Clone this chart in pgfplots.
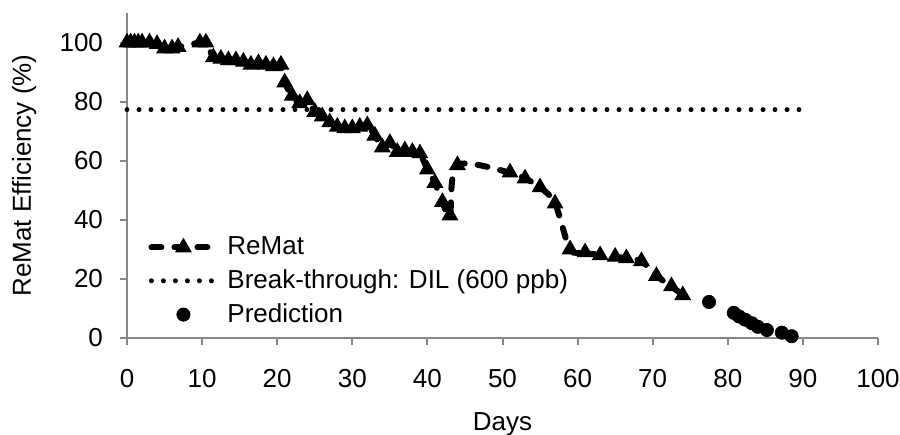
\documentclass[border=0pt]{standalone}
\usepackage{fontspec}
\setmainfont{Liberation Sans}
\usepackage{pgfplots}
\pgfplotsset{compat=1.18}
\definecolor{axisgray}{RGB}{134,134,134}
\newcommand\cf{\fontsize{13bp}{15.6bp}\selectfont}

\begin{document}
\begin{tikzpicture}
\begin{axis}[
  scale only axis, width=375.5bp, height=162.5bp,
  xmin=0, xmax=100, ymin=0, ymax=110,
  xtick={0,10,...,100}, ytick={0,20,...,100},
  axis lines=left,
  axis line style={axisgray, line width=1bp, -},
  tick style={axisgray, line width=1bp},
  tick align=outside, major tick length=3.5bp,
  /pgf/number format/assume math mode=true,
  tick label style={font=\cf, black},
  xticklabel style={yshift=-8.5bp},
  yticklabel style={xshift=-5bp},
  label style={font=\cf},
  xlabel={Days},
  ylabel={ReMat Efficiency (\%)},
  xlabel style={at={(axis description cs:0.5,-0.264)}, anchor=center},
  ylabel style={at={(axis description cs:-0.137,0.5)}, anchor=center},
  legend cell align=left,
  legend style={draw=none, fill=none, font=\cf, at={(0.028,0.025)},
    anchor=south west, inner sep=0pt, row sep=2bp, column sep=2.5bp},
  legend image code/.code={%
    \draw[mark repeat=2,mark phase=2,#1]
      plot coordinates {(0bp,0bp) (16bp,0bp) (32bp,0bp)};},
  clip=false,
]
% measured efficiency (smoothed line)
\addplot[black, line width=3bp, dash pattern=on 5bp off 6.5bp, line cap=round,
  smooth, tension=0.5,
  mark=triangle*, mark size=4.4bp, mark options={solid, line width=0.5bp}]
  coordinates {
  (0,100) (0.5,100) (1,100) (1.5,100) (2,100) (3,100) (4,99.5) (5,98)
  (6,98) (6.8,98.5) (9.7,100) (10.5,100) (11.5,95) (12.5,94.5) (13.5,94)
  (14.5,94) (15.5,93.5) (16.5,92.5) (17.5,93) (18.5,92.5) (19.5,92)
  (20.5,92.5) (21,86.5) (22,82) (23,79.5) (24,80.5) (25,76.5) (26,75)
  (27,73) (28,71.5) (29,71) (30,71) (31,71.5) (32,72) (33,68.5) (34,64.5)
  (35,66) (36,63) (37,63.5) (38,63) (39,62.5) (40,57) (41,52.5) (42,46)
  (43,41.5) (44,58.5) (51,56) (53,54) (55,51) (57,45.5) (59,30) (61,29)
  (63,28) (65,27.5) (66.5,27) (68.5,26) (70.5,21) (72.5,17.5) (74,14.5)
  };
\addlegendentry{ReMat}
% break-through threshold
\addplot[black, line width=2.5bp, line cap=round, dash pattern=on 0bp off 6bp]
  coordinates {(0,77.3) (90,77.3)};
\addlegendentry{Break-through: DIL (600 ppb)}
% extrapolated efficiency
\addplot[only marks, black, mark=*, mark size=3.3bp]
  coordinates {
  (77.5,12.2) (80.8,8.5) (81.5,7.3) (82.3,6.2) (83.2,5) (84,3.8)
  (85.2,2.7) (87.2,1.8) (88.5,0.6)
  };
\addlegendentry{Prediction}
\end{axis}
\pgfresetboundingbox
\path (current axis.south west) ++(-63.5bp,-48.5bp) rectangle ++(450bp,217.5bp);
\end{tikzpicture}
\end{document}
